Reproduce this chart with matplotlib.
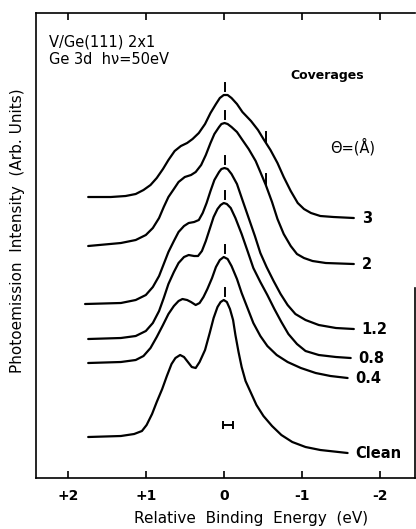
import numpy as np
import matplotlib.pyplot as plt

# Ge 3d core level spectra, V on Ge(111) 2x1, for several coverages
# energies in eV (relative binding energy), intensities in arb. units incl. vertical offset
e_3 = [1.74, 1.45, 1.26, 1.13, 1.03, 0.94, 0.86, 0.78, 0.71, 0.63, 0.55, 0.47, 0.40, 0.32,
       0.24, 0.17, 0.10, 0.05, 0.00, -0.05, -0.10, -0.17, -0.24, -0.35, -0.44, -0.51,
       -0.60, -0.69, -0.77, -0.86, -0.95, -1.03, -1.12, -1.24, -1.41, -1.67]
i_3 = [281, 281, 282, 284, 288, 293, 300, 309, 318, 327, 332, 335, 339, 345,
       354, 365, 374, 380, 383, 383, 380, 374, 366, 357, 348, 339,
       328, 315, 301, 287, 275, 269, 265, 262, 261, 260]

e_2 = [1.74, 1.32, 1.13, 1.00, 0.91, 0.83, 0.77, 0.71, 0.64, 0.58, 0.50, 0.42, 0.36, 0.29,
       0.23, 0.17, 0.12, 0.06, 0.03, -0.01, -0.05, -0.10, -0.17, -0.24, -0.32, -0.41,
       -0.47, -0.54, -0.62, -0.69, -0.77, -0.86, -0.94, -1.03, -1.14, -1.31, -1.67]
i_2 = [232, 235, 238, 243, 250, 260, 271, 281, 289, 296, 301, 303, 306, 313,
       323, 335, 344, 351, 354, 355, 354, 351, 346, 338, 329, 317,
       306, 293, 276, 259, 244, 232, 224, 220, 217, 215, 214]

e_12 = [1.78, 1.32, 1.13, 1.00, 0.91, 0.83, 0.77, 0.71, 0.64, 0.58, 0.51, 0.45, 0.38, 0.32,
        0.27, 0.22, 0.17, 0.12, 0.06, 0.03, -0.01, -0.05, -0.10, -0.17, -0.24, -0.32,
        -0.40, -0.47, -0.55, -0.64, -0.73, -0.82, -0.92, -1.05, -1.22, -1.44, -1.67]
i_12 = [174, 175, 178, 183, 191, 202, 214, 226, 237, 246, 252, 255, 256, 258,
        265, 275, 287, 298, 306, 309, 310, 309, 304, 294, 278, 260,
        242, 225, 211, 197, 184, 173, 164, 158, 153, 150, 149]

e_08 = [1.74, 1.32, 1.13, 1.00, 0.91, 0.83, 0.77, 0.71, 0.64, 0.58, 0.51, 0.45, 0.38, 0.33,
        0.28, 0.23, 0.18, 0.13, 0.08, 0.04, 0.00, -0.04, -0.09, -0.15, -0.23, -0.31,
        -0.38, -0.47, -0.56, -0.65, -0.74, -0.83, -0.94, -1.05, -1.22, -1.44, -1.63]
i_08 = [139, 140, 142, 147, 155, 167, 180, 194, 206, 215, 221, 223, 222, 222,
        227, 237, 249, 261, 269, 273, 275, 274, 270, 260, 244, 226,
        210, 196, 183, 169, 156, 144, 134, 127, 123, 121, 120]

e_04 = [1.74, 1.32, 1.13, 1.03, 0.94, 0.86, 0.78, 0.71, 0.64, 0.58, 0.53, 0.47, 0.42, 0.36,
        0.31, 0.26, 0.21, 0.15, 0.10, 0.05, 0.00, -0.05, -0.10, -0.17, -0.23, -0.31,
        -0.38, -0.47, -0.56, -0.68, -0.82, -0.99, -1.18, -1.37, -1.59]
i_04 = [115, 116, 118, 122, 130, 141, 153, 164, 172, 177, 179, 178, 176, 173,
        175, 181, 189, 200, 211, 218, 221, 219, 212, 199, 185, 169,
        155, 142, 132, 123, 116, 110, 105, 102, 100]

e_clean = [1.74, 1.32, 1.15, 1.05, 0.99, 0.92, 0.86, 0.79, 0.73, 0.67, 0.62, 0.56, 0.51,
           0.46, 0.41, 0.36, 0.31, 0.24, 0.18, 0.13, 0.08, 0.04, 0.00, -0.04, -0.08,
           -0.12, -0.15, -0.19, -0.23, -0.28, -0.35, -0.42, -0.51, -0.62, -0.74, -0.88,
           -1.05, -1.24, -1.59]
i_clean = [41, 42, 44, 47, 53, 64, 76, 89, 102, 114, 120, 123, 121,
           116, 111, 110, 116, 128, 145, 160, 171, 176, 178, 176, 169,
           158, 143, 126, 111, 97, 85, 73, 62, 52, 43, 36,
           31, 28, 25]

labels = ["3", "2", "1.2", "0.8", "0.4", "Clean"]
energies = [e_3, e_2, e_12, e_08, e_04, e_clean]
intens = [i_3, i_2, i_12, i_08, i_04, i_clean]

# second component marked on the two thickest films
shoulder_e = -0.54
shoulder_curves = ["3", "2"]

# instrumental resolution bar
res_center = -0.05
res_half = 0.065
res_level = 53

fig = plt.figure(figsize=(4.16, 5.29), dpi=100)
ax = fig.add_axes([0.0865, 0.0964, 0.912, 0.879])

for lab, e, y in zip(labels, energies, intens):
    ax.plot(e, y, color="black", lw=1.6, solid_capstyle="round", solid_joinstyle="round")
    ax.text(e[-1] - 0.10, y[-1], lab, fontsize=10.5, fontweight="bold",
            ha="left", va="center")
    # peak marker above the main line
    top = max(y)
    ax.plot([-0.02, -0.02], [top + 4, top + 12], color="black", lw=1.4)
    if lab in shoulder_curves:
        ys = np.interp(-shoulder_e, -np.array(e), y)
        ax.plot([shoulder_e, shoulder_e], [ys + 1, ys + 11], color="black", lw=1.4)

ax.errorbar([res_center], [res_level], xerr=[res_half], color="black", lw=1.4,
            capsize=3, capthick=1.4)

ax.text(2.24, 436, "V/Ge(111) 2x1", fontsize=10.5, ha="left", va="center")
ax.text(2.24, 419, "Ge 3d  h\u03bd=50eV", fontsize=10.5, ha="left", va="center")
ax.text(-0.86, 403, "Coverages", fontsize=9, fontweight="bold", ha="left", va="center")
ax.text(-1.37, 331, "\u0398=(\u00c5)", fontsize=10.5, ha="left", va="center")

ax.set_xlim(2.41, -2.46)
ax.set_ylim(0, 465)
ax.set_xticks([2, 1, 0, -1, -2])
ax.set_xticklabels(["+2", "+1", "0", "-1", "-2"], fontsize=10, fontweight="bold")
ax.set_yticks([])
ax.tick_params(axis="x", direction="in", length=5, width=1.2, top=True, pad=8)

for s in ax.spines.values():
    s.set_linewidth(1.2)
ax.spines["right"].set_bounds(0, 190)

ax.set_xlabel("Relative  Binding  Energy  (eV)", fontsize=11)
ax.xaxis.set_label_coords(0.568, -0.072)
ax.set_ylabel("Photoemission  Intensity  (Arb. Units)", fontsize=11)
ax.yaxis.set_label_coords(-0.03, 0.531)

fig.savefig("out.png", dpi=100)
